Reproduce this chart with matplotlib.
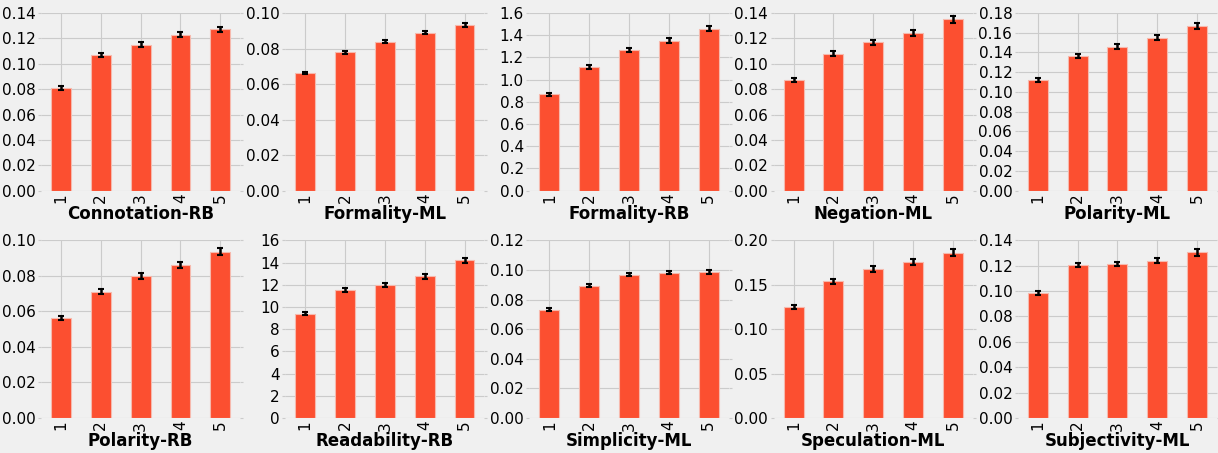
import numpy as np
import matplotlib
matplotlib.use('Agg')
import matplotlib.pyplot as plt

plt.style.use('fivethirtyeight')

levels = ['1', '2', '3', '4', '5']

names = ['Connotation-RB', 'Formality-ML', 'Formality-RB', 'Negation-ML', 'Polarity-ML',
         'Polarity-RB', 'Readability-RB', 'Simplicity-ML', 'Speculation-ML', 'Subjectivity-ML']

connotation_rb = [0.081, 0.107, 0.115, 0.123, 0.127]
formality_ml = [0.066, 0.0778, 0.0838, 0.0888, 0.0932]
formality_rb = [0.868, 1.117, 1.270, 1.350, 1.460]
negation_ml = [0.087, 0.108, 0.117, 0.124, 0.135]
polarity_ml = [0.112, 0.136, 0.146, 0.155, 0.167]
polarity_rb = [0.0562, 0.0712, 0.0800, 0.0860, 0.0935]
readability_rb = [9.4, 11.55, 11.95, 12.75, 14.2]
simplicity_ml = [0.0732, 0.0893, 0.0967, 0.0981, 0.0987]
speculation_ml = [0.125, 0.154, 0.168, 0.176, 0.186]
subjectivity_ml = [0.0985, 0.1205, 0.1215, 0.1238, 0.1305]

connotation_rb_err = [0.0015, 0.0015, 0.0018, 0.0020, 0.0022]
formality_ml_err = [0.0006, 0.0007, 0.0008, 0.0009, 0.0011]
formality_rb_err = [0.014, 0.017, 0.019, 0.021, 0.025]
negation_ml_err = [0.0015, 0.0018, 0.0020, 0.0025, 0.0030]
polarity_ml_err = [0.0018, 0.0020, 0.0022, 0.0025, 0.0030]
polarity_rb_err = [0.0010, 0.0013, 0.0015, 0.0017, 0.0020]
readability_rb_err = [0.15, 0.17, 0.18, 0.20, 0.25]
simplicity_ml_err = [0.0008, 0.0009, 0.0010, 0.0011, 0.0012]
speculation_ml_err = [0.0025, 0.0030, 0.0033, 0.0035, 0.0040]
subjectivity_ml_err = [0.0015, 0.0017, 0.0018, 0.0020, 0.0025]

values = [connotation_rb, formality_ml, formality_rb, negation_ml, polarity_ml,
          polarity_rb, readability_rb, simplicity_ml, speculation_ml, subjectivity_ml]
errors = [connotation_rb_err, formality_ml_err, formality_rb_err, negation_ml_err, polarity_ml_err,
          polarity_rb_err, readability_rb_err, simplicity_ml_err, speculation_ml_err, subjectivity_ml_err]

# axis ranges (top, tick step)
ytops = [0.14, 0.10, 1.6, 0.14, 0.18, 0.10, 16, 0.12, 0.20, 0.14]
ysteps = [0.02, 0.02, 0.2, 0.02, 0.02, 0.02, 2, 0.02, 0.05, 0.02]

fig, axes = plt.subplots(2, 5, figsize=(12.18, 4.53), dpi=100)
fig.patch.set_facecolor('#f0f0f0')
fig.subplots_adjust(left=0.0337, right=0.9992, top=0.9713, bottom=0.0773,
                    wspace=0.226, hspace=0.28)

x = np.arange(len(levels))
for ax, name, vals, errs, top, step in zip(axes.flat, names, values, errors, ytops, ysteps):
    ax.set_facecolor('#f0f0f0')
    ax.set_axisbelow(True)
    ax.bar(x, vals, width=0.5, color='#fc4f30', edgecolor='#f6b9ad', linewidth=0.8,
           yerr=errs, ecolor='black', capsize=2.5,
           error_kw=dict(elinewidth=1.8, capthick=1.5))
    ax.set_xlim(-0.5, 4.5)
    ax.set_ylim(0, top)
    ax.set_yticks(np.arange(0, top + step / 2, step))
    ax.set_xticks(x)
    ax.set_xticklabels(levels, rotation=90)
    ax.grid(True, color='#cbcbcb', linewidth=0.8)
    for s in ax.spines.values():
        s.set_visible(False)
    ax.tick_params(axis='both', labelsize=11, pad=2, length=0)
    ax.tick_params(axis='y', right=True, length=2, color='#cbcbcb', direction='out')
    ax.set_xlabel(name, fontsize=12, fontweight='bold', labelpad=1)

plt.savefig('out.png', dpi=100, facecolor=fig.get_facecolor())
